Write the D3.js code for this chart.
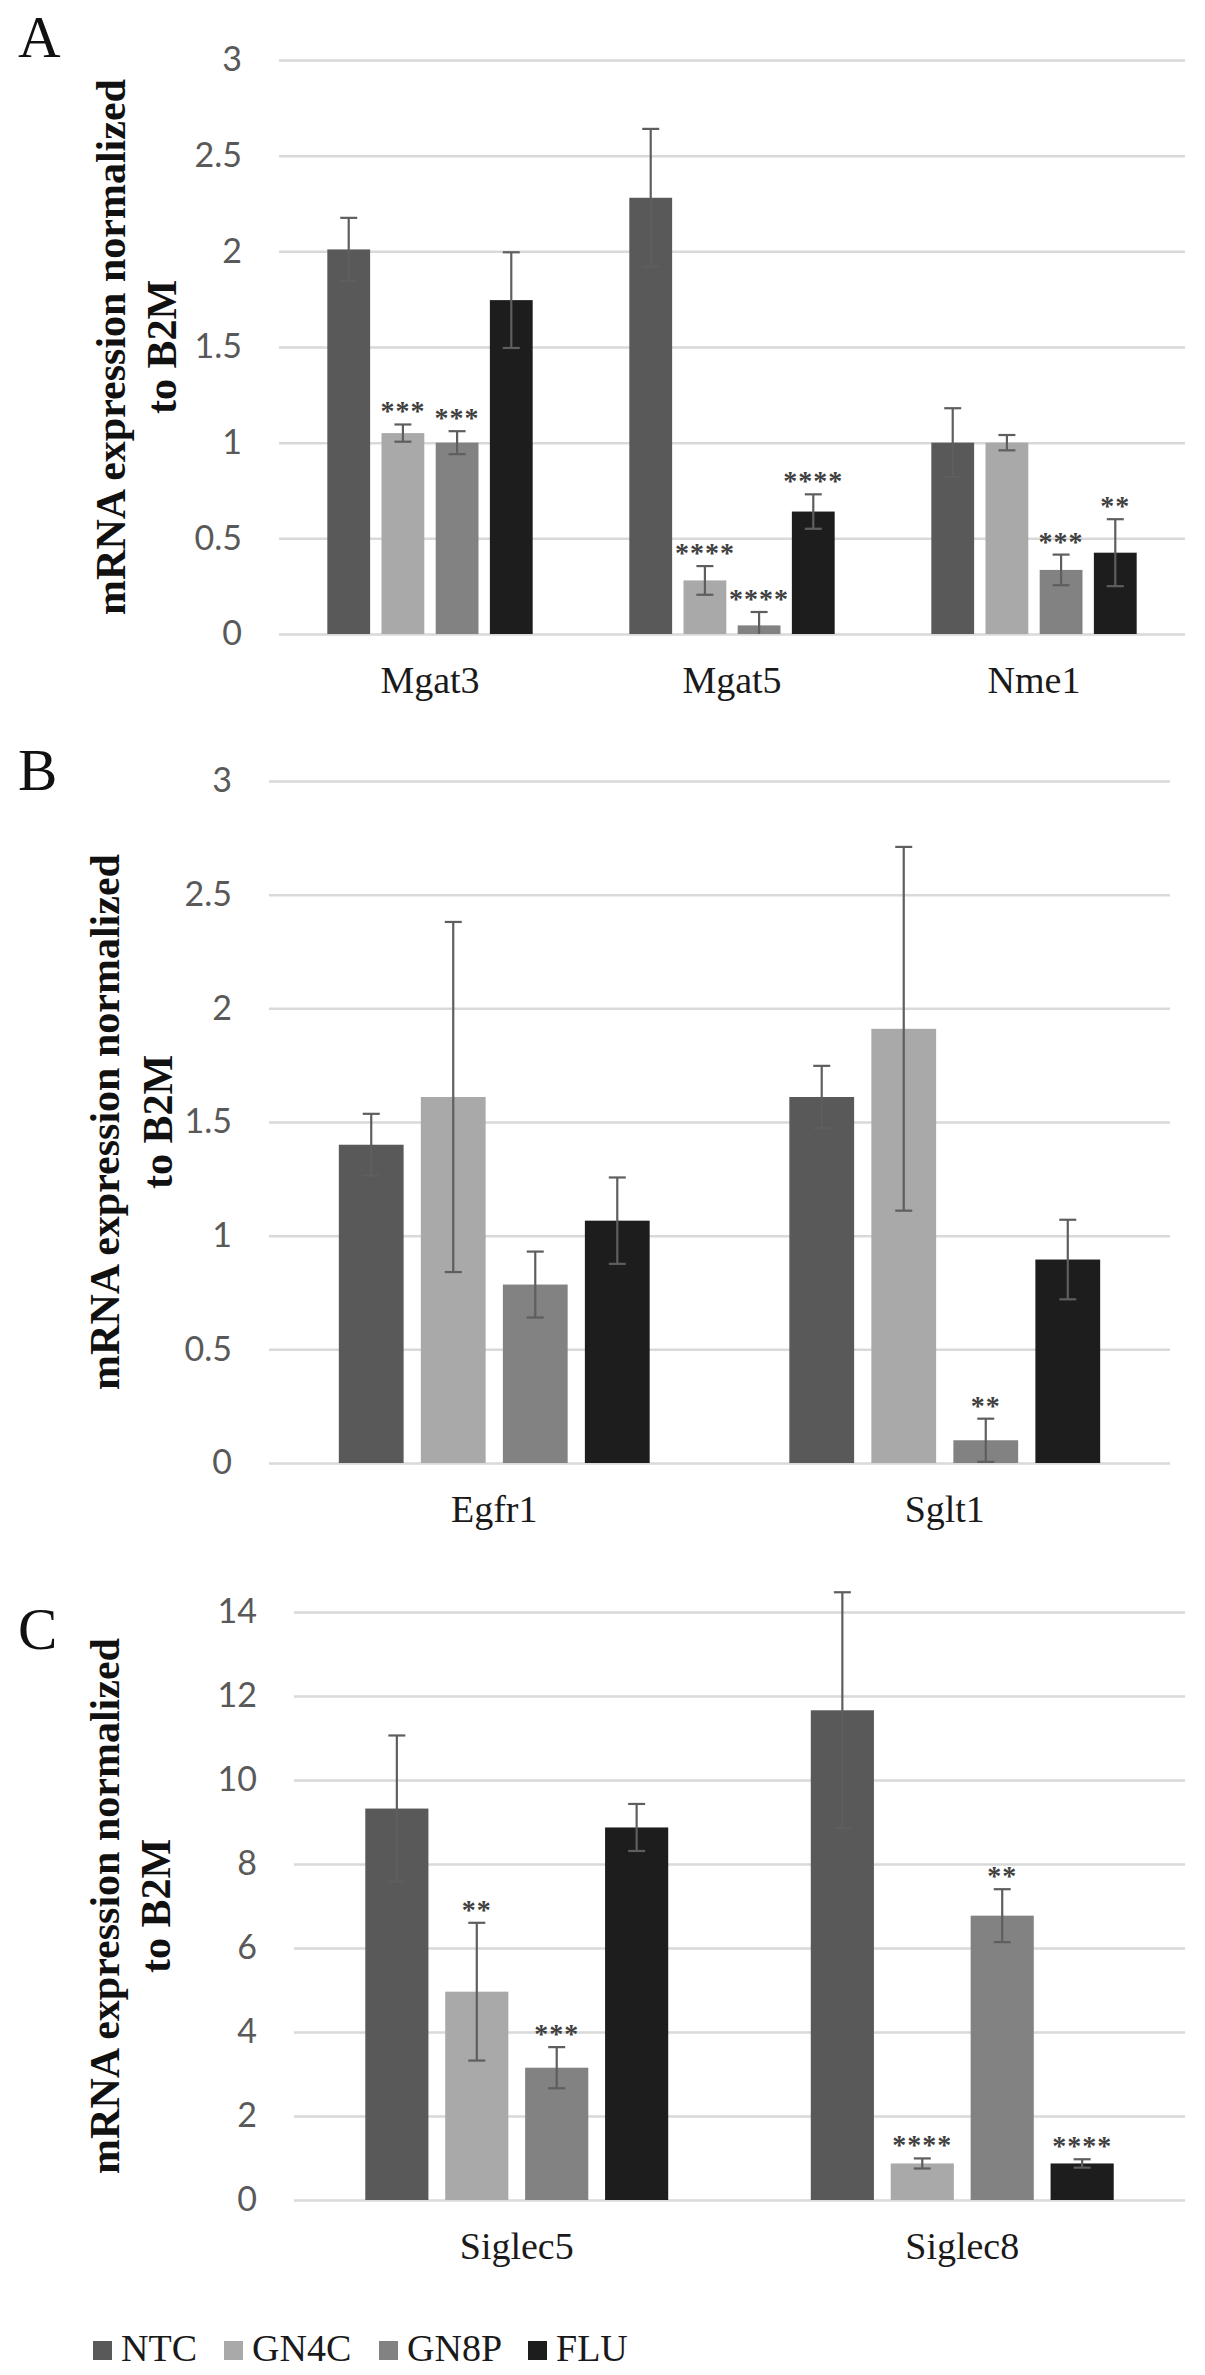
<!DOCTYPE html>
<html>
<head>
<meta charset="utf-8">
<script src="https://cdn.jsdelivr.net/npm/d3@7"></script>
<style>
  body { margin: 0; background: #fff; }
  svg { display: block; }
</style>
</head>
<body>
<div id="chart"></div>
<script>
// Series (legend order)
const series = ['NTC', 'GN4C', 'GN8P', 'FLU'];
const seriesColors = ['#595959', '#a9a9a9', '#828282', '#1d1d1d'];

// Panel A
const genesA = ['Mgat3', 'Mgat5', 'Nme1'];
const meanA = { NTC: [2.01, 2.28, 1.0], GN4C: [1.05, 0.28, 1.0], GN8P: [1.0, 0.045, 0.335], FLU: [1.745, 0.64, 0.425] };
const errA = { NTC: [0.165, 0.36, 0.18], GN4C: [0.045, 0.075, 0.04], GN8P: [0.06, 0.07, 0.08], FLU: [0.25, 0.09, 0.175] };
const starsA = { NTC: ['', '', ''], GN4C: ['***', '****', ''], GN8P: ['***', '****', '***'], FLU: ['', '****', '**'] };
const ticksA = [0, 0.5, 1, 1.5, 2, 2.5, 3];

// Panel B
const genesB = ['Egfr1', 'Sglt1'];
const meanB = { NTC: [1.4, 1.61], GN4C: [1.61, 1.91], GN8P: [0.785, 0.1], FLU: [1.066, 0.895] };
const errB = { NTC: [0.136, 0.137], GN4C: [0.77, 0.8], GN8P: [0.145, 0.095], FLU: [0.19, 0.175] };
const starsB = { NTC: ['', ''], GN4C: ['', ''], GN8P: ['', '**'], FLU: ['', ''] };
const ticksB = [0, 0.5, 1, 1.5, 2, 2.5, 3];

// Panel C
const genesC = ['Siglec5', 'Siglec8'];
const meanC = { NTC: [9.32, 11.66], GN4C: [4.96, 0.87], GN8P: [3.15, 6.77], FLU: [8.87, 0.87] };
const errC = { NTC: [1.74, 2.81], GN4C: [1.64, 0.12], GN8P: [0.49, 0.63], FLU: [0.56, 0.1] };
const starsC = { NTC: ['', ''], GN4C: ['**', '****'], GN8P: ['***', '**'], FLU: ['', '****'] };
const ticksC = [0, 2, 4, 6, 8, 10, 12, 14];

const W = 1205, H = 2375;
const svg = d3.select('#chart').append('svg').attr('width', W).attr('height', H);
svg.append('rect').attr('width', W).attr('height', H).attr('fill', '#fff');

const color = d3.scaleOrdinal().domain(series).range(seriesColors);
const serif = '"Liberation Serif", "Times New Roman", serif';

function drawPanel(cfg) {
  const g = svg.append('g');
  const y = d3.scaleLinear().domain([0, cfg.max]).range([cfg.y0, cfg.y1]);
  const x0 = d3.scaleBand().domain(cfg.genes).range([cfg.left, cfg.right])
    .paddingInner(cfg.gap).paddingOuter(cfg.gap / 2);
  const x1 = d3.scaleBand().domain(series).range([0, x0.bandwidth()]).paddingInner(0.21);

  // gridlines + tick labels
  const axis = g.append('g').attr('transform', `translate(${cfg.left},0)`)
    .call(d3.axisLeft(y).tickValues(cfg.ticks).tickFormat(d => String(d))
      .tickSize(-(cfg.right - cfg.left)).tickPadding(37));
  axis.select('.domain').remove();
  axis.selectAll('line').attr('stroke', '#d9d9d9').attr('stroke-width', 2.5);
  axis.selectAll('text').attr('fill', '#595959')
    .style('font-family', 'Lato, "Open Sans", sans-serif').style('font-size', '34px');

  // bars
  const rows = [];
  cfg.genes.forEach((gene, i) => series.forEach(s => rows.push({
    gene, s, v: cfg.mean[s][i], e: cfg.err[s][i], star: cfg.stars[s][i]
  })));
  const bx = d => x0(d.gene) + x1(d.s);
  const cx = d => bx(d) + x1.bandwidth() / 2;

  g.selectAll('rect.bar').data(rows).enter().append('rect')
    .attr('class', 'bar')
    .attr('x', bx)
    .attr('y', d => y(d.v))
    .attr('width', x1.bandwidth())
    .attr('height', d => y(0) - y(d.v))
    .attr('fill', d => color(d.s));

  // error bars
  const eb = g.selectAll('g.err').data(rows).enter().append('g').attr('class', 'err')
    .attr('stroke', '#5e5e5e').attr('stroke-width', 2.2).attr('fill', 'none');
  eb.append('line').attr('x1', cx).attr('x2', cx)
    .attr('y1', d => y(d.v + d.e)).attr('y2', d => y(Math.max(0, d.v - d.e)));
  eb.append('line').attr('x1', d => cx(d) - 8.5).attr('x2', d => cx(d) + 8.5)
    .attr('y1', d => y(d.v + d.e)).attr('y2', d => y(d.v + d.e));
  eb.filter(d => d.v - d.e > 0).append('line')
    .attr('x1', d => cx(d) - 8.5).attr('x2', d => cx(d) + 8.5)
    .attr('y1', d => y(d.v - d.e)).attr('y2', d => y(d.v - d.e));

  // significance stars
  g.selectAll('text.star').data(rows.filter(d => d.star)).enter().append('text')
    .attr('class', 'star')
    .attr('x', cx)
    .attr('y', d => y(d.v + d.e) - 4)
    .attr('text-anchor', 'middle')
    .attr('fill', '#404040')
    .style('font-family', serif).style('font-weight', 'bold').style('font-size', '28px')
    .style('letter-spacing', '1px')
    .text(d => d.star);

  // category labels
  g.selectAll('text.cat').data(cfg.genes).enter().append('text')
    .attr('class', 'cat')
    .attr('x', d => x0(d) + x0.bandwidth() / 2)
    .attr('y', y(0) + 59)
    .attr('text-anchor', 'middle')
    .attr('fill', '#1a1a1a')
    .style('font-family', serif).style('font-size', '38px')
    .text(d => d);

  // y title (two lines, rotated)
  const cy = (cfg.y0 + cfg.y1) / 2;
  [['mRNA expression normalized', cfg.t1], ['to B2M', cfg.t2]].forEach(([t, tx]) => {
    g.append('text')
      .attr('transform', `translate(${tx},${cy}) rotate(-90)`)
      .attr('text-anchor', 'middle')
      .attr('fill', '#111')
      .style('font-family', serif).style('font-weight', 'bold').style('font-size', '42px')
      .text(t);
  });

  // panel letter
  g.append('text').attr('x', 18).attr('y', cfg.letterY)
    .attr('fill', '#111')
    .style('font-family', serif).style('font-size', '59px')
    .text(cfg.letter);
}

drawPanel({ letter: 'A', letterY: 57, genes: genesA, mean: meanA, err: errA, stars: starsA,
  ticks: ticksA, max: 3, y0: 634, y1: 60, left: 279, right: 1185, gap: 0.32, t1: 125, t2: 176 });
drawPanel({ letter: 'B', letterY: 790, genes: genesB, mean: meanB, err: errB, stars: starsB,
  ticks: ticksB, max: 3, y0: 1463, y1: 781, left: 269, right: 1170, gap: 0.31, t1: 119, t2: 172 });
drawPanel({ letter: 'C', letterY: 1649, genes: genesC, mean: meanC, err: errC, stars: starsC,
  ticks: ticksC, max: 14, y0: 2200, y1: 1612, left: 294, right: 1185, gap: 0.32, t1: 119, t2: 170 });

// legend
const legendX = [93, 224, 379, 528];
const legend = svg.append('g').selectAll('g').data(series).enter().append('g')
  .attr('transform', (d, i) => `translate(${legendX[i]},2341)`);
legend.append('rect').attr('width', 19).attr('height', 19).attr('fill', d => color(d));
legend.append('text').attr('x', 28).attr('y', 20)
  .attr('fill', '#1a1a1a')
  .style('font-family', serif).style('font-size', '38px')
  .text(d => d);
</script>
</body>
</html>
